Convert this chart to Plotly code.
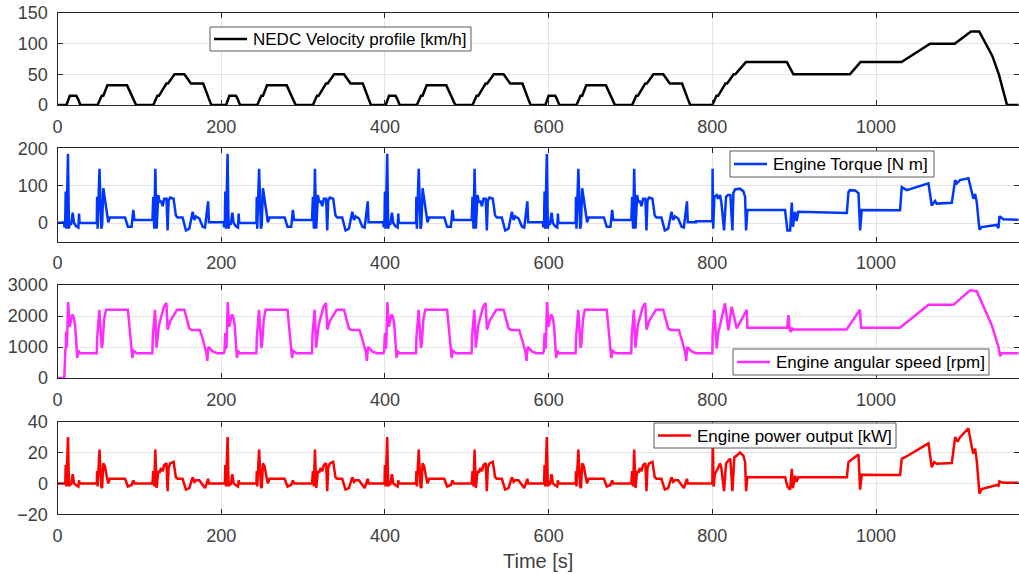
import plotly.graph_objects as go

# ---------------------------------------------------------------------------
# NEDC structure: four ECE-15 urban cycles followed by the EUDC segment
# ---------------------------------------------------------------------------
ECE_STARTS = [0, 195, 390, 585]

# ECE-15 urban cycle, time relative to the start of each cycle [s]
ECE_SPEED_T = [0, 11, 15, 23, 25, 28, 49, 54, 56, 61, 85, 93, 96, 117, 122, 124,
               133, 135, 143, 155, 163, 176, 178, 185, 188, 195]
ECE_SPEED_V = [0, 0, 15, 15, 10, 0, 0, 15, 15, 32, 32, 10, 0, 0, 15, 15,
               35, 35, 50, 50, 35, 35, 35, 10, 0, 0]

ECE_TORQUE_T = [0, 8, 8.5, 9.5, 10, 10.8, 12.8, 14, 15, 16.5, 18.6, 20.2, 22.6, 25.5,
                26.3, 27, 48, 48.4, 49, 51.3, 53.5, 54.5, 56, 58, 60, 62, 64, 82.5,
                86, 90.5, 92.6, 94, 116, 117, 118.2, 119.5, 121.1, 123.1, 124.8,
                126.4, 128.5, 130.4, 133.2, 134.5, 135.7, 137.7, 141.8, 144.6, 146.7,
                152.8, 156.9, 161, 165.1, 167.2, 169.2, 173.3, 177.4, 180.2, 184,
                185, 195]
ECE_TORQUE_V = [2, 2, -12, 10, 84, -15, 185, -15, 0, -5, 28, 0, -8, -12,
                25, 0, 0, 70, -15, 145, -15, -5, 93, 60, 30, 2, 15, 15,
                -10, -10, 35, 8, 8, 70, -15, 145, -15, 75, 55,
                60, 45, 65, 65, -20, 60, 68, 65, 20, 15,
                15, -20, -15, 30, 8, 18, 12, -10, -12, 58,
                2, 2]

ECE_RPM_T = [0, 8, 9, 10, 10.5, 11.5, 13, 14.8, 16, 18, 20, 21.5, 24.2, 25.5, 27.6,
             48, 48.5, 51.2, 54, 55, 57, 59.3, 86, 91.5, 93, 96.8, 115.9, 116.5,
             119.2, 121, 124, 130, 133, 134.6, 138, 146, 155, 161, 164, 174, 178,
             182, 183, 184.3, 190, 194.5, 195]
ECE_RPM_V = [800, 800, 850, 1450, 950, 1000, 2450, 1650, 1800, 2050, 1950, 1700, 650, 880, 800,
             800, 1300, 2200, 970, 1100, 1900, 2200, 2200, 650, 880, 800, 800, 1380,
             2200, 980, 1700, 2300, 2420, 1560, 1850, 2200, 2200, 1600, 1550, 1550, 1200,
             800, 550, 1000, 850, 800, 800]

ECE_POWER_T = [0, 9, 9.5, 10, 10.8, 12.8, 14, 15, 16.5, 18.6, 20.2, 22.6, 25.5, 26.3,
               27, 48, 48.4, 49, 51.3, 53.5, 54.5, 56, 58, 60, 62, 64, 82.5, 86,
               90.5, 92.6, 94, 116, 117, 118.2, 119.5, 121.1, 123.1, 124.8, 126.4,
               128.5, 130.4, 133.2, 134.5, 135.7, 137.7, 141.8, 144.6, 146.7, 152.8,
               156.9, 161, 165.1, 167.2, 169.2, 173.3, 177.4, 180.2, 184, 185, 195]
ECE_POWER_V = [0, 0, 0, 12, -2, 30, -2, 0, -1, 6, 0, -1, -2, 2,
               0, 0, 8, -2, 22, -2, -3, 13, 11, 5, 0, 3, 3, -2,
               -1, 2, 0, 0, 8, -2, 22, -3, 8, 7, 10,
               8, 12, 13, -5, 10, 13, 14, 4, 3, 3,
               -4, -3, 4, 1, 2, 2, -1, -3, 3, 0, 0]

# Engine start at the beginning of the first urban cycle
START_TORQUE_T = [0, 7.5]
START_TORQUE_V = [0, 0]
START_RPM_T = [0, 8.3, 9.6, 10.2, 10.4, 10.8]
START_RPM_V = [0, 0, 900, 1000, 1500, 1000]
START_POWER_T = [0, 9.2]
START_POWER_V = [0, 0]

# EUDC extra-urban segment, absolute time [s]
EUDC_SPEED_T = [780, 800, 805, 807, 816, 818, 826, 828, 841, 891, 899, 968, 981, 1031,
                1066, 1096, 1116, 1126, 1142, 1150, 1160, 1180]
EUDC_SPEED_V = [0, 0, 15, 15, 35, 35, 50, 50, 70, 70, 50, 50, 70, 70,
                100, 100, 120, 120, 80, 50, 0, 0]

EUDC_TORQUE_T = [780, 800, 800.3, 801, 802.5, 805.3, 807, 809.4, 811, 814.3, 816.7, 819,
                 822, 824.5, 825.7, 827.7, 833.8, 837.9, 840, 841.2, 842.8, 888.8,
                 891.7, 895, 897, 898.5, 901, 903, 905, 964.3, 966.3, 968, 974.4,
                 978.5, 980.5, 982.5, 1029.3, 1031.4, 1037.5, 1064, 1068, 1072.1, 1074,
                 1092.5, 1096.6, 1098.6, 1102.6, 1112.8, 1116.9, 1118.9, 1121, 1123,
                 1126.3, 1129, 1147.4, 1149.5, 1150.7, 1155.6, 1180]
EUDC_TORQUE_V = [5, 5, 145, -15, 70, 75, 65, 75, 55, -20, 70, 75,
                 75, -20, 80, 90, 92, 85, 70, -20, 35, 35,
                 -20, -20, 55, -10, 30, 5, 30, 27, 83, 88, 87,
                 80, -20, 35, 34, 96, 88, 106, 47, 59, 52,
                 54, 115, 106, 115, 120, 78, 65, 78, 56,
                 -18, -11, -5, -14, 18, 10, 8]

EUDC_RPM_T = [780, 800, 800.4, 802.5, 805.3, 807, 815.5, 819.6, 823.6, 829.8, 842, 842.8,
              891.3, 893, 894.6, 896, 897.5, 899.4, 964, 980.3, 981.6, 1029.3, 1064,
              1094.5, 1114.9, 1123, 1133.2, 1141.4, 1149.5, 1151.6, 1153.5, 1180]
EUDC_RPM_V = [800, 800, 1430, 2200, 950, 1430, 2410, 1540, 2300, 1600, 2200, 1620,
              1620, 2030, 1540, 1490, 1600, 1565, 1565, 2200, 1620, 1620, 2360,
              2360, 2830, 2800, 2200, 1700, 1000, 700, 800, 800]

EUDC_POWER_T = [780, 800, 800.5, 801.5, 803, 805.3, 807, 809.4, 811, 814.3, 816.7, 819.6,
                822, 824.5, 826.9, 829.7, 833.8, 837.9, 840, 841.2, 842.8, 889, 891.7,
                895, 897, 898.5, 901, 903, 905, 964.3, 966.3, 968, 978.5, 980.5, 982.5,
                1029.3, 1031.4, 1035.5, 1064, 1068, 1071, 1074.3, 1092.5, 1096.6, 1099.5,
                1102.6, 1112.8, 1116.9, 1118.9, 1121, 1123, 1126.3, 1129, 1147.4,
                1149.5, 1150.7, 1155, 1180]
EUDC_POWER_V = [0, 0, 31, -2, 6, 8, 10, 13, 10, -5, 13, 15,
                16, -5, 17, 18, 20, 18, 14, -5, 4, 4, -2,
                -4, 9.5, -3, 5, 1, 4, 4, 13.8, 14.5, 18.7, -4, 5.7,
                5.5, 16, 17, 26, 10.5, 13.8, 12.7, 13.2, 30, 27,
                30, 35.6, 23.7, 19.3, 22.6, 15, -6.6, -3.7, -1.1,
                -1.5, 1.3, 0.5, 0.4]

X_TICKS = [0, 200, 400, 600, 800, 1000]
Y_TICKS = [[0, 50, 100, 150], [0, 100, 200], [0, 1000, 2000, 3000], [-20, 0, 20, 40]]
Y_RANGES = [[0, 150], [-50, 200], [0, 3000], [-20, 40]]

NAMES = ["NEDC Velocity profile [km/h]", "Engine Torque [N m]",
         "Engine angular speed [rpm]", "Engine power output [kW]"]
COLORS = ["#000000", "#0037ff", "#ff2bff", "#ff0000"]


def assemble(ece_t, ece_v, eudc_t, eudc_v, start_t=None, start_v=None):
    """Chain the four urban cycles and the extra-urban segment into one trace."""
    t, v = [], []
    for k, c0 in enumerate(ECE_STARTS):
        pts = list(zip(ece_t, ece_v))
        if k == 0 and start_t is not None:
            t += list(start_t)
            v += list(start_v)
            pts = [(a, b) for a, b in pts if a > start_t[-1]]
        t += [c0 + a for a, _ in pts]
        v += [b for _, b in pts]
    t += list(eudc_t)
    v += list(eudc_v)
    return t, v


series = [
    assemble(ECE_SPEED_T, ECE_SPEED_V, EUDC_SPEED_T, EUDC_SPEED_V),
    assemble(ECE_TORQUE_T, ECE_TORQUE_V, EUDC_TORQUE_T, EUDC_TORQUE_V,
             START_TORQUE_T, START_TORQUE_V),
    assemble(ECE_RPM_T, ECE_RPM_V, EUDC_RPM_T, EUDC_RPM_V, START_RPM_T, START_RPM_V),
    assemble(ECE_POWER_T, ECE_POWER_V, EUDC_POWER_T, EUDC_POWER_V,
             START_POWER_T, START_POWER_V),
]

W, H = 1019, 574
# axes boxes in pixels: (top, bottom)
BOXES = [(13, 105), (148.3, 241.7), (285, 378), (421.7, 514.3)]
# legend boxes in pixels: (left, top, right, bottom)
LEGEND_BOXES = [(210, 27, 471, 51), (730, 151, 934, 177),
                (733, 349, 989, 375), (654, 423, 896, 448)]

AXIS_COLOR = "#262626"
GRID_COLOR = "#e4e4e4"
TICK_COLOR = "#404040"
X0, X1 = 57.5, 1018.5


def px(x):
    return x / W


def py(y):
    return 1 - y / H


fig = go.Figure()
layout = dict(
    width=W, height=H,
    margin=dict(l=0, r=0, t=0, b=0, pad=0, autoexpand=False),
    paper_bgcolor="white", plot_bgcolor="white", showlegend=False,
    font=dict(family="Liberation Sans, Arial, Helvetica, sans-serif", color=TICK_COLOR),
)
shapes, annotations = [], []

for i, ((t, v), name, color) in enumerate(zip(series, NAMES, COLORS)):
    n = i + 1
    suffix = "" if n == 1 else str(n)
    fig.add_trace(go.Scatter(x=t, y=v, mode="lines", name=name,
                             line=dict(color=color, width=2.5),
                             xaxis="x" + suffix, yaxis="y" + suffix))
    top, bot = BOXES[i]
    common = dict(showline=True, linecolor=AXIS_COLOR, linewidth=1, mirror="ticks",
                  ticks="inside", ticklen=5, tickcolor=AXIS_COLOR, tickwidth=1,
                  showgrid=True, gridcolor=GRID_COLOR, gridwidth=1, zeroline=False,
                  automargin=False, tickfont=dict(size=18, color=TICK_COLOR))
    layout["xaxis" + suffix] = dict(
        common, domain=[px(X0), px(X1)], range=[0, 1174], tickmode="array",
        tickvals=X_TICKS, ticklabelstandoff=5, anchor="y" + suffix)
    layout["yaxis" + suffix] = dict(
        common, domain=[py(bot), py(top)], range=Y_RANGES[i],
        tickmode="array", tickvals=Y_TICKS[i], ticklabelstandoff=5, anchor="x" + suffix)

    # legend box with line sample and label
    lx0, ly0, lx1, ly1 = LEGEND_BOXES[i]
    ym = (ly0 + ly1) / 2
    shapes.append(dict(type="rect", xref="paper", yref="paper", layer="above",
                       x0=px(lx0), x1=px(lx1), y0=py(ly1), y1=py(ly0),
                       fillcolor="white", line=dict(color="#5a5a5a", width=1)))
    shapes.append(dict(type="line", xref="paper", yref="paper", layer="above",
                       x0=px(lx0 + 4), x1=px(lx0 + 37), y0=py(ym), y1=py(ym),
                       line=dict(color=color, width=2.5)))
    annotations.append(dict(text=name, x=px(lx0 + 41), y=py(ym + 0.5), xref="paper",
                            yref="paper", showarrow=False, xanchor="left",
                            yanchor="middle", font=dict(size=17, color="#000000")))

annotations.append(dict(text="Time [s]", x=px((X0 + X1) / 2), y=py(561),
                        xref="paper", yref="paper", showarrow=False,
                        xanchor="center", yanchor="middle",
                        font=dict(size=20, color=TICK_COLOR)))

layout["shapes"] = shapes
layout["annotations"] = annotations
fig.update_layout(**layout)
fig.write_html("out.html")
